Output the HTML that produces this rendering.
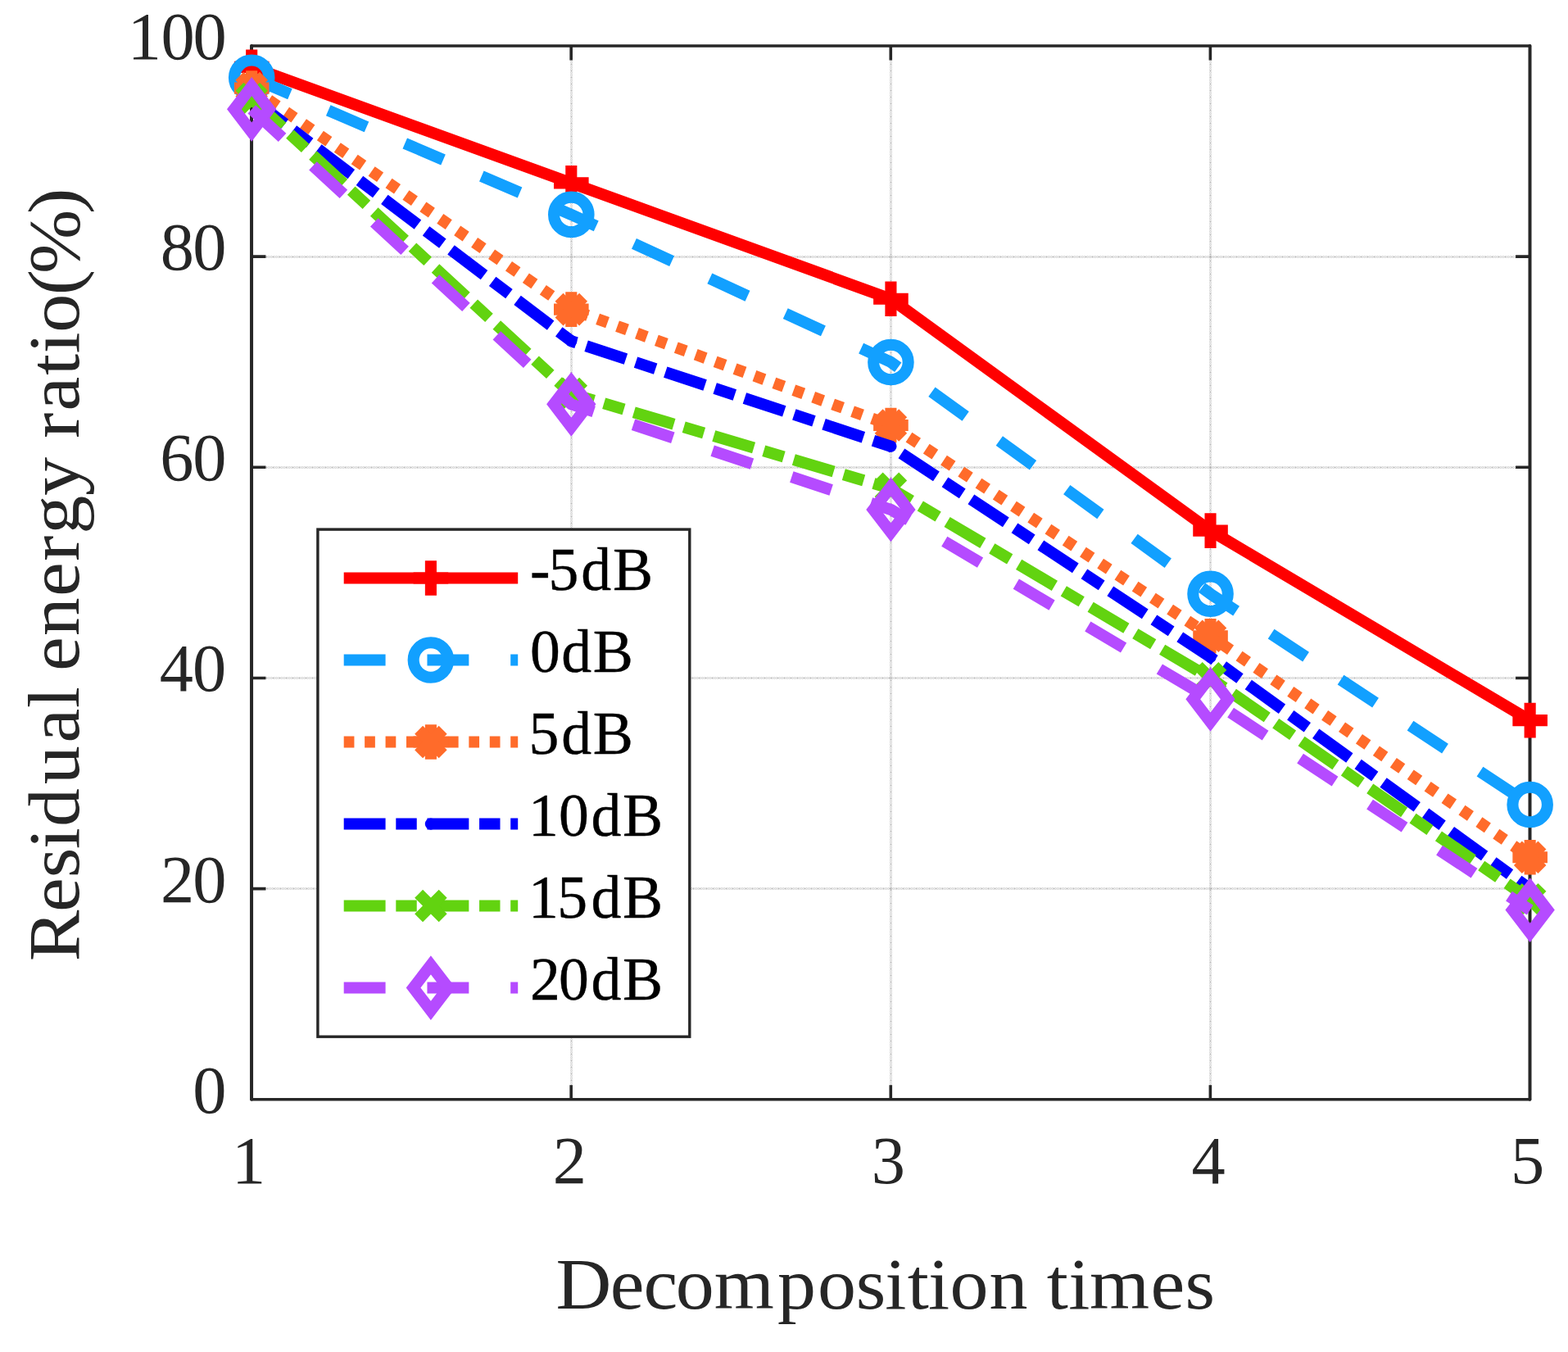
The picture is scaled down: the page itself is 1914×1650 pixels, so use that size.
<!DOCTYPE html>
<html lang="en">
<head>
<meta charset="utf-8">
<title>Residual energy ratio vs decomposition times</title>
<style>
html,body{margin:0;padding:0;background:#fff;}
body{width:1914px;height:1650px;overflow:hidden;}
svg{display:block;}
text{font-family:"Liberation Serif","DejaVu Serif",serif;}
.tk{font-size:82.4px;fill:#262626;}
.lb{font-size:89.5px;fill:#262626;}
.lg{font-size:73.7px;fill:#000;stroke:#000;stroke-width:0.4px;}
</style>
</head>
<body>
<svg width="1914" height="1650" viewBox="0 0 1914 1650" role="img" aria-label="Residual energy ratio versus decomposition times">
<rect width="1914" height="1650" fill="#ffffff"/>
<defs>
<pattern id="gv" width="2" height="8" patternUnits="userSpaceOnUse" fill="#000" fill-opacity="0.21"><rect x="0" y="2" width="1" height="1"/><rect x="0" y="4" width="1" height="1"/><rect x="0" y="6" width="1" height="1"/><rect x="1" y="1" width="1" height="1"/><rect x="1" y="3" width="1" height="1"/><rect x="1" y="5" width="1" height="1"/><rect x="1" y="7" width="1" height="1"/><rect x="0" y="0" width="2" height="1"/></pattern>
<pattern id="gh" width="8" height="2" patternUnits="userSpaceOnUse" fill="#000" fill-opacity="0.21"><rect x="2" y="0" width="1" height="1"/><rect x="4" y="0" width="1" height="1"/><rect x="6" y="0" width="1" height="1"/><rect x="1" y="1" width="1" height="1"/><rect x="3" y="1" width="1" height="1"/><rect x="5" y="1" width="1" height="1"/><rect x="7" y="1" width="1" height="1"/><rect x="0" y="0" width="1" height="2"/></pattern>
</defs>
<g shape-rendering="crispEdges">
<g transform="translate(696 54)"><rect x="0" y="4" width="3" height="1282" fill="url(#gv)"/></g>
<g transform="translate(1086 54)"><rect x="0" y="4" width="3" height="1282" fill="url(#gv)"/></g>
<g transform="translate(1476 54)"><rect x="0" y="4" width="3" height="1282" fill="url(#gv)"/></g>
<g transform="translate(309 312)"><rect x="0" y="0" width="1557" height="3" fill="url(#gh)"/></g>
<g transform="translate(309 569)"><rect x="0" y="0" width="1557" height="3" fill="url(#gh)"/></g>
<g transform="translate(309 826)"><rect x="0" y="0" width="1557" height="3" fill="url(#gh)"/></g>
<g transform="translate(302 1083)"><rect x="7" y="0" width="1557" height="3" fill="url(#gh)"/></g>
</g>
<g stroke="#262626" stroke-width="3.6" fill="none" stroke-linejoin="round" stroke-linecap="butt">
<path d="M307.05 56H1867.5M307.05 1341.75H1867.5" stroke-linecap="round"/>
<path d="M307.05 56V1341.75M1867.5 56V1341.75" stroke-width="4" stroke-linecap="round"/>
<path d="M697.16 1341.75V1324.35M697.16 56V73.4"/>
<path d="M1087.28 1341.75V1324.35M1087.28 56V73.4"/>
<path d="M1477.39 1341.75V1324.35M1477.39 56V73.4"/>
<path d="M307.05 1084.6H324.45M1867.5 1084.6H1850.1"/>
<path d="M307.05 827.45H324.45M1867.5 827.45H1850.1"/>
<path d="M307.05 570.3H324.45M1867.5 570.3H1850.1"/>
<path d="M307.05 313.15H324.45M1867.5 313.15H1850.1"/>
</g>
<g>
<polyline points="307.2,81.91 697.31,223.35 1087.43,364.78 1477.54,647.65 1867.65,879.08" stroke="#ff0000" stroke-width="14.1" fill="none" stroke-linejoin="round"/>
<path d="M285.9 81.91H328.5M307.2 60.61V103.21" stroke="#ff0000" stroke-width="14.1" fill="none"/>
<path d="M676.01 223.35H718.61M697.31 202.05V244.65" stroke="#ff0000" stroke-width="14.1" fill="none"/>
<path d="M1066.13 364.78H1108.73M1087.43 343.48V386.08" stroke="#ff0000" stroke-width="14.1" fill="none"/>
<path d="M1456.24 647.65H1498.84M1477.54 626.35V668.95" stroke="#ff0000" stroke-width="14.1" fill="none"/>
<path d="M1846.35 879.08H1888.95M1867.65 857.78V900.38" stroke="#ff0000" stroke-width="14.1" fill="none"/>
</g>
<g>
<polyline points="307.2,94.77 697.31,261.92 1087.43,441.93 1477.54,724.79 1867.65,981.94" stroke="#12a0ff" stroke-width="14.1" fill="none" stroke-linejoin="round" stroke-dasharray="50.88 50.88"/>
<circle cx="307.2" cy="94.77" r="21.25" stroke="#12a0ff" stroke-width="14.1" fill="none"/>
<circle cx="697.31" cy="261.92" r="21.25" stroke="#12a0ff" stroke-width="14.1" fill="none"/>
<circle cx="1087.43" cy="441.93" r="21.25" stroke="#12a0ff" stroke-width="14.1" fill="none"/>
<circle cx="1477.54" cy="724.79" r="21.25" stroke="#12a0ff" stroke-width="14.1" fill="none"/>
<circle cx="1867.65" cy="981.94" r="21.25" stroke="#12a0ff" stroke-width="14.1" fill="none"/>
</g>
<g>
<polyline points="307.2,107.63 697.31,377.64 1087.43,519.07 1477.54,776.22 1867.65,1046.23" stroke="#ff6b2a" stroke-width="14.1" fill="none" stroke-linejoin="round" stroke-dasharray="12.72 12.72"/>
<path d="M285.9 107.63H328.5M307.2 86.33V128.93" stroke="#ff6b2a" stroke-width="14.1" fill="none"/><path d="M292.42 92.85L321.98 122.41M292.42 122.41L321.98 92.85" stroke="#ff6b2a" stroke-width="14.1" fill="none"/>
<path d="M676.01 377.64H718.61M697.31 356.34V398.94" stroke="#ff6b2a" stroke-width="14.1" fill="none"/><path d="M682.53 362.86L712.09 392.42M682.53 392.42L712.09 362.86" stroke="#ff6b2a" stroke-width="14.1" fill="none"/>
<path d="M1066.13 519.07H1108.73M1087.43 497.77V540.37" stroke="#ff6b2a" stroke-width="14.1" fill="none"/><path d="M1072.65 504.29L1102.2 533.85M1072.65 533.85L1102.2 504.29" stroke="#ff6b2a" stroke-width="14.1" fill="none"/>
<path d="M1456.24 776.22H1498.84M1477.54 754.92V797.52" stroke="#ff6b2a" stroke-width="14.1" fill="none"/><path d="M1462.76 761.44L1492.32 791M1462.76 791L1492.32 761.44" stroke="#ff6b2a" stroke-width="14.1" fill="none"/>
<path d="M1846.35 1046.23H1888.95M1867.65 1024.93V1067.53" stroke="#ff6b2a" stroke-width="14.1" fill="none"/><path d="M1852.87 1031.45L1882.43 1061.01M1852.87 1061.01L1882.43 1031.45" stroke="#ff6b2a" stroke-width="14.1" fill="none"/>
</g>
<g>
<polyline points="307.2,120.49 697.31,416.21 1087.43,544.79 1477.54,801.94 1867.65,1084.8" stroke="#0000ff" stroke-width="14.1" fill="none" stroke-linejoin="round" stroke-dasharray="50.88 12.72 25.44 12.72"/>
<circle cx="307.2" cy="120.49" r="7.1" fill="#0000ff"/>
<circle cx="697.31" cy="416.21" r="7.1" fill="#0000ff"/>
<circle cx="1087.43" cy="544.79" r="7.1" fill="#0000ff"/>
<circle cx="1477.54" cy="801.94" r="7.1" fill="#0000ff"/>
<circle cx="1867.65" cy="1084.8" r="7.1" fill="#0000ff"/>
</g>
<g>
<polyline points="307.2,120.49 697.31,480.5 1087.43,596.22 1477.54,827.65 1867.65,1097.66" stroke="#62d310" stroke-width="14.1" fill="none" stroke-linejoin="round" stroke-dasharray="50.88 12.72 25.44 12.72"/>
<path d="M292.42 105.71L321.98 135.27M292.42 135.27L321.98 105.71" stroke="#62d310" stroke-width="14.1" fill="none"/>
<path d="M682.53 465.72L712.09 495.28M682.53 495.28L712.09 465.72" stroke="#62d310" stroke-width="14.1" fill="none"/>
<path d="M1072.65 581.44L1102.2 610.99M1072.65 610.99L1102.2 581.44" stroke="#62d310" stroke-width="14.1" fill="none"/>
<path d="M1462.76 812.87L1492.32 842.43M1462.76 842.43L1492.32 812.87" stroke="#62d310" stroke-width="14.1" fill="none"/>
<path d="M1852.87 1082.88L1882.43 1112.44M1852.87 1112.44L1882.43 1082.88" stroke="#62d310" stroke-width="14.1" fill="none"/>
</g>
<g>
<polyline points="307.2,133.34 697.31,493.35 1087.43,621.93 1477.54,853.37 1867.65,1110.52" stroke="#b54bff" stroke-width="14.1" fill="none" stroke-linejoin="round" stroke-dasharray="50.88 50.88"/>
<path d="M307.2 105.54L328.5 133.34L307.2 161.14L285.9 133.34Z" stroke="#b54bff" stroke-width="14.1" fill="none" stroke-linejoin="miter" stroke-miterlimit="10"/>
<path d="M697.31 465.55L718.61 493.35L697.31 521.15L676.01 493.35Z" stroke="#b54bff" stroke-width="14.1" fill="none" stroke-linejoin="miter" stroke-miterlimit="10"/>
<path d="M1087.43 594.13L1108.73 621.93L1087.43 649.73L1066.13 621.93Z" stroke="#b54bff" stroke-width="14.1" fill="none" stroke-linejoin="miter" stroke-miterlimit="10"/>
<path d="M1477.54 825.57L1498.84 853.37L1477.54 881.16L1456.24 853.37Z" stroke="#b54bff" stroke-width="14.1" fill="none" stroke-linejoin="miter" stroke-miterlimit="10"/>
<path d="M1867.65 1082.72L1888.95 1110.52L1867.65 1138.32L1846.35 1110.52Z" stroke="#b54bff" stroke-width="14.1" fill="none" stroke-linejoin="miter" stroke-miterlimit="10"/>
</g>
<rect x="387.9" y="646.1" width="453.9" height="619.1" fill="#ffffff" stroke="#262626" stroke-width="3.4"/>
<path d="M419.7 705.55H632.2" stroke="#ff0000" stroke-width="14.1" fill="none"/>
<path d="M504.6 705.55H547.2M525.9 684.25V726.85" stroke="#ff0000" stroke-width="14.1" fill="none"/>
<text class="lg" x="647.09 669.62 709.19 747.96" y="720.25">-5dB</text>
<path d="M419.7 805.55H632.2" stroke="#12a0ff" stroke-width="14.1" fill="none" stroke-dasharray="50.88 50.88"/>
<circle cx="525.9" cy="805.55" r="21.25" stroke="#12a0ff" stroke-width="14.1" fill="none"/>
<text class="lg" x="647.03 685.24 723.86" y="820.25">0dB</text>
<path d="M419.7 905.55H632.2" stroke="#ff6b2a" stroke-width="14.1" fill="none" stroke-dasharray="12.72 12.72"/>
<path d="M504.6 905.55H547.2M525.9 884.25V926.85" stroke="#ff6b2a" stroke-width="14.1" fill="none"/><path d="M511.12 890.77L540.68 920.33M511.12 920.33L540.68 890.77" stroke="#ff6b2a" stroke-width="14.1" fill="none"/>
<text class="lg" x="645.42 685.24 723.86" y="920.25">5dB</text>
<path d="M419.7 1005.55H632.2" stroke="#0000ff" stroke-width="14.1" fill="none" stroke-dasharray="50.88 12.72 25.44 12.72"/>
<circle cx="525.9" cy="1005.55" r="7.1" fill="#0000ff"/>
<text class="lg" x="645.1 682.12 721.39 759.96" y="1020.25">10dB</text>
<path d="M419.7 1105.55H632.2" stroke="#62d310" stroke-width="14.1" fill="none" stroke-dasharray="50.88 12.72 25.44 12.72"/>
<path d="M511.12 1090.77L540.68 1120.33M511.12 1120.33L540.68 1090.77" stroke="#62d310" stroke-width="14.1" fill="none"/>
<text class="lg" x="645.1 680.22 721.39 759.96" y="1120.25">15dB</text>
<path d="M419.7 1205.55H632.2" stroke="#b54bff" stroke-width="14.1" fill="none" stroke-dasharray="50.88 50.88"/>
<path d="M525.9 1177.75L547.2 1205.55L525.9 1233.35L504.6 1205.55Z" stroke="#b54bff" stroke-width="14.1" fill="none" stroke-linejoin="miter" stroke-miterlimit="10"/>
<text class="lg" x="647.09 682.12 721.39 759.96" y="1220.25">20dB</text>
<text class="tk" x="155.75 196.5 235.45" y="71.9">100</text>
<text class="tk" x="195.8 235.2" y="329.05">80</text>
<text class="tk" x="195.26 235.2" y="586.2">60</text>
<text class="tk" x="194.79 235" y="843.35">40</text>
<text class="tk" x="196.11 235.2" y="1100.5">20</text>
<text class="tk" x="235.2" y="1357.65">0</text>
<text class="tk" x="283.05" y="1443.6">1</text>
<text class="tk" x="674.81" y="1443.6">2</text>
<text class="tk" x="1063.84" y="1443.6">3</text>
<text class="tk" x="1454.49" y="1443.6">4</text>
<text class="tk" x="1844.07" y="1443.6">5</text>
<text class="lb" transform="translate(0 1596.7) scale(1.05 1)" x="646.23 709.27 748.05 785.58 830.33 903.89 950.48 994.89 1028.77 1054.96 1079.15 1104.29 1149.89 1194.64 1216.96 1242.19 1266.76 1337.56 1377.56" y="0">Decomposition times</text>
<text class="lb" transform="translate(96 1168.3) rotate(-90) scale(1.05 1)" x="-4.83 52.66 92.41 125.86 151.79 201.04 249.32 289.57 314.43 332.66 373.42 419.32 460.17 491.84 536.4 581.15 603.12 635.13 676.39 701.72 726.15 769.62 794.63 864.15" y="0">Residual energy ratio(%)</text>
</svg>
</body>
</html>
